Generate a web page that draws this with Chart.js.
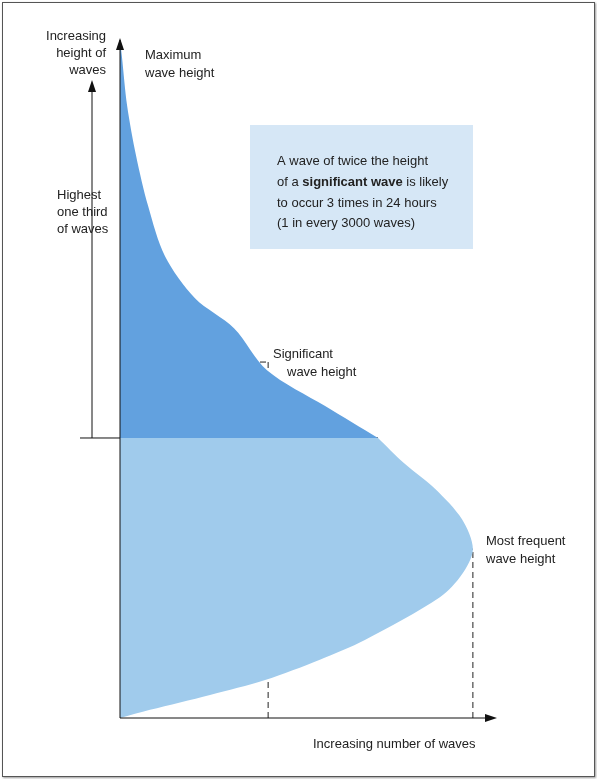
<!DOCTYPE html>
<html>
<head>
<meta charset="utf-8">
<script src="https://cdn.jsdelivr.net/npm/chart.js@4/dist/chart.umd.min.js"></script>
<style>
  body { margin: 0; background: #fff; }
  #wrap { position: absolute; left: 2px; top: 2px; width: 591px; height: 773px; border: 1px solid #555; box-shadow: 1px 1px 2px #999; }
  canvas { position: absolute; left: -3px; top: -3px; }
</style>
</head>
<body>
<div id="wrap"><canvas id="grafica" width="597" height="779"></canvas></div>
<script>
// wave heights (y, 0-100) and number of waves (x, 0-100)
const upperHeights = [41.3, 46.0, 51.3, 57.5, 61.9, 68.1, 75.5, 82.9, 90.3, 97.6, 100];
const upperCounts  = [68.8, 54.7, 39.2, 30.4, 20.0, 12.0, 7.5, 4.3, 1.9, 0.5, 0];
const lowerHeights = [0, 1.2, 3.4, 5.6, 8.6, 11.5, 17.8, 21.2, 24.9, 29.3, 33.8, 37.6, 41.3];
const lowerCounts  = [0, 8.0, 24.0, 38.7, 53.3, 65.3, 85.3, 91.2, 94.1, 91.2, 84.0, 75.7, 68.8];
const significantHeight = 52.5, significantCount = 39.5;
const frequentHeight = 24.9, frequentCount = 94.1;
const thirdHeight = 41.3, thirdCount = 68.8;

function pts(xs, ys) { return xs.map((x, i) => ({x: x, y: ys[i]})); }

const dashed = {borderColor: '#222', borderWidth: 1, borderDash: [6, 4], pointRadius: 0, fill: false, tension: 0};

const notes = {
  id: 'notes',
  beforeDatasetsDraw(chart) {
    const c = chart.ctx;
    c.save();
    c.fillStyle = '#d6e7f6';
    c.fillRect(250, 125, 223, 124);
    c.restore();
  },
  afterDatasetsDraw(chart) {
    const c = chart.ctx, xs = chart.scales.x, ys = chart.scales.y;
    const x0 = xs.getPixelForValue(0), y0 = ys.getPixelForValue(0);
    c.save();
    c.strokeStyle = '#111'; c.fillStyle = '#111'; c.lineWidth = 1;
    // axes with arrows
    c.beginPath();
    c.moveTo(x0, y0); c.lineTo(x0, 40);
    c.moveTo(x0, y0); c.lineTo(492, y0);
    c.stroke();
    c.beginPath(); c.moveTo(x0, 38); c.lineTo(x0 - 4, 50); c.lineTo(x0 + 4, 50); c.fill();
    c.beginPath(); c.moveTo(497, y0); c.lineTo(485, y0 - 4); c.lineTo(485, y0 + 4); c.fill();
    // highest third bracket
    const yt = ys.getPixelForValue(thirdHeight);
    c.beginPath();
    c.moveTo(80, yt); c.lineTo(x0, yt);
    c.moveTo(92, yt); c.lineTo(92, 86);
    c.stroke();
    c.beginPath(); c.moveTo(92, 80); c.lineTo(88, 92); c.lineTo(96, 92); c.fill();
    // text
    c.font = '13px "Liberation Sans", Arial, sans-serif';
    c.fillStyle = '#222';
    c.textBaseline = 'middle';
    c.textAlign = 'right';
    ['Increasing', 'height of', 'waves'].forEach((t, i) => c.fillText(t, 106, 36 + i * 17));
    c.textAlign = 'left';
    ['Maximum', 'wave height'].forEach((t, i) => c.fillText(t, 145, 55 + i * 18));
    ['Highest', 'one third', 'of waves'].forEach((t, i) => c.fillText(t, 57, 195 + i * 17));
    c.fillText('Significant', 273, 354);
    c.fillText('wave height', 287, 372);
    c.fillText('Most frequent', 486, 541);
    c.fillText('wave height', 486, 559);
    c.fillText('Increasing number of waves', 313, 744);
    c.fillText('A wave of twice the height', 277, 161);
    c.fillText('of a ', 277, 182);
    let w = c.measureText('of a ').width;
    c.font = 'bold 13px "Liberation Sans", Arial, sans-serif';
    c.fillText('significant wave', 277 + w, 182);
    w += c.measureText('significant wave').width;
    c.font = '13px "Liberation Sans", Arial, sans-serif';
    c.fillText(' is likely', 277 + w, 182);
    c.fillText('to occur 3 times in 24 hours', 277, 203);
    c.fillText('(1 in every 3000 waves)', 277, 223);
    c.restore();
  }
};

new Chart(document.getElementById('grafica'), {
  type: 'line',
  data: {
    datasets: [
      {data: pts(lowerCounts, lowerHeights), backgroundColor: '#a0cbec', borderWidth: 0, pointRadius: 0, fill: 'origin', tension: 0.3},
      {data: pts(upperCounts, upperHeights), backgroundColor: '#62a1df', borderWidth: 0, pointRadius: 0, fill: 'origin', tension: 0.3},
      Object.assign({data: [{x: 0, y: significantHeight}, {x: significantCount, y: significantHeight}]}, dashed),
      Object.assign({data: [{x: significantCount, y: 0}, {x: significantCount, y: significantHeight}]}, dashed),
      Object.assign({data: [{x: 0, y: frequentHeight}, {x: frequentCount, y: frequentHeight}]}, dashed),
      Object.assign({data: [{x: frequentCount, y: 0}, {x: frequentCount, y: frequentHeight}]}, dashed),
      {data: [{x: 0, y: thirdHeight}, {x: thirdCount, y: thirdHeight}], borderColor: '#111', borderWidth: 1, pointRadius: 0, fill: false}
    ]
  },
  options: {
    indexAxis: 'y',
    responsive: false,
    animation: false,
    layout: {padding: {left: 120, right: 102, top: 40, bottom: 61}},
    plugins: {legend: {display: false}, tooltip: {enabled: false}},
    scales: {
      x: {type: 'linear', min: 0, max: 100, display: false},
      y: {type: 'linear', min: 0, max: 100, display: false}
    }
  },
  plugins: [notes]
});
</script>
</body>
</html>
